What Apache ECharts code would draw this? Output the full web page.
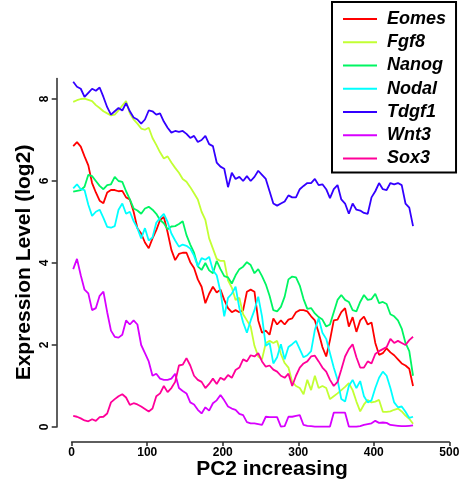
<!DOCTYPE html>
<html><head><meta charset="utf-8">
<script src="https://cdn.jsdelivr.net/npm/echarts@6/dist/echarts.min.js"></script>
<style>html,body{margin:0;padding:0;background:#fff}#c{width:472px;height:488px}</style>
</head><body><div id="c"></div>
<script>
// x positions of the samples (every 5 units along PC2)
const xPos = [];
for (let i = 0; i < 91; i++) xPos.push(2 + 5 * i);

const genes = ['Eomes', 'Fgf8', 'Nanog', 'Nodal', 'Tdgf1', 'Wnt3', 'Sox3'];
const colors = ['#FF0000', '#C2FF33', '#00F562', '#00FFFF', '#3300FF', '#D800FF', '#FF0099'];

const eomes = [6.85,6.95,6.84,6.6,6.38,5.95,5.72,5.52,5.46,5.72,
  5.78,5.78,5.75,5.76,5.6,5.55,5.25,4.85,4.72,4.5,
  4.36,4.6,4.8,5.05,5.12,4.75,4.32,4.07,4.22,4.25,
  4.25,4.02,3.88,3.6,3.42,3.02,3.25,3.42,3.28,3.35,
  3.1,2.9,2.8,2.85,2.8,2.85,3.3,3.35,3.3,2.6,
  2.3,2.35,2.25,2.65,2.5,2.6,2.5,2.62,2.65,2.8,
  2.85,2.85,2.82,2.7,2.6,2.3,1.95,1.72,2.12,2.6,
  2.62,2.8,2.9,2.45,2.68,2.32,2.6,2.69,2.5,2.55,
  2.05,1.76,1.8,1.92,1.82,1.75,1.65,1.55,1.5,1.42,
  1.0];
const fgf8 = [7.93,7.97,8.0,8.01,7.98,7.95,7.85,7.78,7.7,7.65,
  7.6,7.62,7.72,7.84,7.95,7.65,7.5,7.4,7.28,7.25,
  7.3,7.05,6.88,6.7,6.55,6.6,6.45,6.32,6.2,6.05,
  5.98,5.85,5.7,5.55,5.25,5.05,4.6,4.35,4.1,4.05,
  4.05,3.58,3.4,3.1,3.15,2.75,2.6,2.45,1.98,1.72,
  1.65,2.05,2.1,2.05,2.1,1.78,1.56,1.45,1.1,1.0,
  0.95,0.8,1.15,0.9,1.25,0.95,1.0,0.95,0.68,0.75,
  0.82,0.9,0.98,1.07,0.9,0.62,0.38,0.55,0.66,0.6,
  0.62,0.66,0.37,0.37,0.38,0.42,0.45,0.38,0.28,0.2,
  0.08];
const nanog = [5.74,5.76,5.78,5.86,6.15,6.12,6.0,5.88,5.8,5.9,
  5.92,6.1,6.0,5.98,5.75,5.55,5.33,5.28,5.2,5.33,
  5.37,5.3,5.2,5.05,4.97,4.82,4.89,4.9,4.95,5.02,
  4.68,4.45,4.25,3.92,3.83,4.0,3.82,3.75,4.05,3.85,
  3.68,3.65,3.5,3.7,3.85,3.91,4.02,3.95,3.75,3.85,
  3.68,3.48,3.2,2.85,2.82,2.93,3.18,3.6,3.67,3.65,
  3.45,3.12,2.88,2.9,2.77,2.68,2.62,2.45,2.5,2.8,
  3.1,3.22,3.1,3.05,2.85,2.82,3.05,3.22,3.1,3.12,
  3.25,3.02,3.05,3.0,2.75,2.7,2.6,2.4,2.05,1.85,
  1.25];
const nodal = [5.82,5.92,5.8,5.78,5.42,5.15,5.25,5.3,5.1,4.88,
  4.86,4.9,5.3,5.45,5.2,5.25,5.02,4.85,4.6,4.85,
  4.55,4.62,4.98,5.1,5.2,5.0,4.72,4.55,4.4,4.45,
  4.42,4.35,4.18,3.92,4.12,4.08,4.15,3.82,3.7,3.3,
  2.7,3.15,3.25,3.42,2.9,2.55,2.3,2.6,2.85,3.18,
  2.7,1.98,2.05,1.55,1.7,2.02,1.65,1.95,2.02,2.1,
  1.9,1.7,1.75,1.85,2.37,2.65,2.3,2.15,1.8,1.45,
  1.15,0.68,0.62,1.0,1.15,0.95,1.12,0.75,0.6,0.65,
  0.95,1.2,1.35,1.25,0.95,0.6,0.48,0.5,0.37,0.22,
  0.25];
const tdgf1 = [8.42,8.3,8.25,8.05,8.15,8.25,8.2,8.28,8.05,7.8,
  7.62,7.7,7.78,7.72,7.9,7.7,7.55,7.5,7.4,7.5,
  7.72,7.7,7.62,7.65,7.45,7.3,7.18,7.22,7.2,7.22,
  7.15,7.05,7.1,6.95,7.0,7.1,6.9,6.85,6.45,6.35,
  6.3,5.85,6.2,6.05,6.1,6.0,6.12,6.0,6.1,6.25,
  6.15,6.05,5.75,5.45,5.4,5.45,5.5,5.65,5.6,5.6,
  5.8,5.88,5.95,5.95,6.05,5.9,5.92,5.8,5.58,5.8,
  5.9,5.55,5.45,5.2,5.45,5.3,5.28,5.22,5.2,5.6,
  5.75,5.95,5.8,5.78,5.95,5.92,5.95,5.9,5.45,5.35,
  4.9];
const wnt3 = [3.85,4.1,3.7,3.35,3.26,2.85,2.9,3.2,3.3,2.8,
  2.35,2.2,2.18,2.25,2.6,2.5,2.6,2.5,2.0,1.8,
  1.6,1.25,1.3,1.18,1.15,1.15,1.18,1.3,0.95,0.88,
  0.82,0.6,0.55,0.42,0.33,0.48,0.4,0.58,0.65,0.78,
  0.65,0.5,0.45,0.42,0.32,0.29,0.12,0.09,0.09,0.07,
  0.05,0.25,0.24,0.24,0.24,0.01,0.02,0.25,0.25,0.27,
  0.29,0.05,0.03,0.02,0.01,0.01,0.01,0.01,0.01,0.35,
  0.35,0.35,0.35,0.01,0.01,0.01,0.02,0.05,0.07,0.09,
  0.15,0.1,0.11,0.1,0.05,0.04,0.03,0.02,0.02,0.03,
  0.04];
const sox3 = [0.27,0.25,0.21,0.16,0.14,0.19,0.15,0.24,0.25,0.33,
  0.6,0.68,0.75,0.8,0.72,0.54,0.58,0.55,0.5,0.44,
  0.38,0.45,0.75,0.82,1.0,0.85,0.95,1.1,1.5,1.52,
  1.68,1.5,1.25,1.15,1.1,0.95,1.05,1.18,1.05,1.2,
  1.15,1.27,1.2,1.39,1.45,1.65,1.6,1.75,1.72,1.8,
  1.6,1.47,1.5,1.4,1.35,1.25,1.2,1.3,1.0,1.25,
  1.45,1.55,1.6,1.72,1.74,1.6,1.45,1.35,1.15,1.0,
  1.1,1.4,1.72,1.9,2.02,1.7,1.45,1.45,1.6,1.55,
  1.78,1.85,1.9,1.95,2.15,2.05,2.1,2.05,2.0,2.12,
  2.2];

const seriesValues = [eomes, fgf8, nanog, nodal, tdgf1, wnt3, sox3];
const xTicks = [0, 100, 200, 300, 400, 500];
const yTicks = [0, 2, 4, 6, 8];

const FONT = '"Liberation Sans", Arial, Helvetica, sans-serif';
const axisColor = '#2a2a2a';

const chart = echarts.init(document.getElementById('c'), null, {renderer: 'canvas'});
chart.setOption({
  animation: false,
  backgroundColor: '#fff',
  grid: {left: 71.7, right: 22.7, top: 78.5, bottom: 61, containLabel: false, outerBoundsMode: 'none'},
  xAxis: {
    type: 'value', min: xTicks[0], max: xTicks[xTicks.length - 1], interval: 100,
    offset: 15,
    axisLine: {show: true, onZero: false, lineStyle: {color: axisColor, width: 1.5}},
    axisTick: {show: true, length: 4, lineStyle: {color: axisColor, width: 1.5}, customValues: xTicks},
    axisLabel: {customValues: xTicks, color: '#000', fontSize: 12, fontWeight: 'bold', fontFamily: FONT, margin: 5},
    splitLine: {show: false}
  },
  yAxis: {
    type: 'value', min: 0, max: 8.5,
    offset: 15,
    axisLine: {show: true, onZero: false, lineStyle: {color: axisColor, width: 1.5}},
    axisTick: {show: true, length: 5, lineStyle: {color: axisColor, width: 1.5}, customValues: yTicks},
    axisLabel: {customValues: yTicks, rotate: 90, color: '#000', fontSize: 12, fontWeight: 'bold', fontFamily: FONT, margin: 6},
    splitLine: {show: false}
  },
  legend: {
    orient: 'vertical', left: 332, top: 2,
    padding: [8, 10, 5, 11], itemGap: 5.25,
    itemWidth: 34, itemHeight: 2, icon: 'rect',
    borderColor: '#000', borderWidth: 2, backgroundColor: '#fff',
    textStyle: {fontFamily: FONT, fontSize: 18, fontWeight: 'bold', fontStyle: 'italic', color: '#000', lineHeight: 18, padding: [0, 0, 0, 5]},
    data: genes
  },
  graphic: [
    {type: 'text', x: 272, y: 469.5, z: 10,
     style: {text: 'PC2 increasing', font: 'bold 21px ' + FONT, fill: '#000', align: 'center', verticalAlign: 'middle', textAlign: 'center', textVerticalAlign: 'middle'}},
    {type: 'text', x: 24, y: 262.5, rotation: Math.PI / 2, z: 10,
     style: {text: 'Expression Level (log2)', font: 'bold 21px ' + FONT, fill: '#000', align: 'center', verticalAlign: 'middle', textAlign: 'center', textVerticalAlign: 'middle'}}
  ],
  series: genes.map((g, i) => ({
    name: g, type: 'line', symbol: 'none', showSymbol: false,
    color: colors[i],
    lineStyle: {color: colors[i], width: 1.8},
    data: seriesValues[i].map((v, k) => [xPos[k], v])
  }))
});
</script>
</body></html>
